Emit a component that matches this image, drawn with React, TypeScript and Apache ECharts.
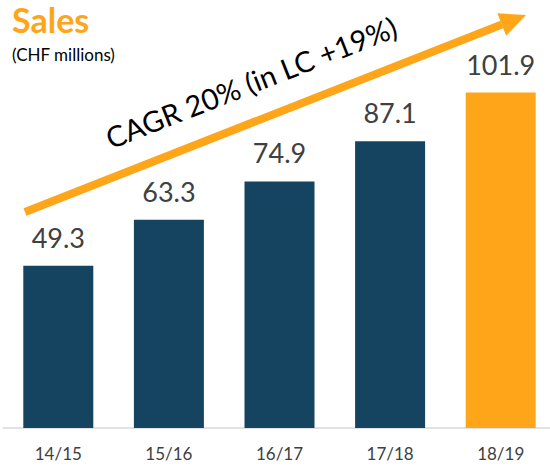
import React, { useEffect, useRef } from "react";
import * as echarts from "echarts";

const categories = ["14/15", "15/16", "16/17", "17/18", "18/19"];
const sales = [49.3, 63.3, 74.9, 87.1, 101.9];
const barColors = ["#14445F", "#14445F", "#14445F", "#14445F", "#FFA519"];
const titleText = "Sales";
const subtitleText = "(CHF millions)";
const cagrText = "CAGR 20% (in LC +19%)";

export default function App() {
  const ref = useRef<HTMLDivElement>(null);
  useEffect(() => {
    document.body.style.margin = "0";
    document.body.style.overflow = "hidden";
    const chart = echarts.init(ref.current!, null, { renderer: "svg" });
    const x0 = 25, y0 = 212, x1 = 526, y1 = 15;
    const ang = Math.atan2(y0 - y1, x1 - x0);
    const headLen = 26, headW = 12;
    const bx = x1 - headLen * Math.cos(ang);
    const by = y1 + headLen * Math.sin(ang);
    const px = Math.sin(ang) * headW;
    const py = Math.cos(ang) * headW;
    chart.setOption({
      animation: false,
      grid: { left: 3, right: 4, top: 33, bottom: 38 },
      xAxis: {
        type: "category",
        data: categories,
        axisLine: { lineStyle: { color: "#D9D9D9", width: 1.5 } },
        axisTick: { show: false },
        axisLabel: { color: "#404040", fontSize: 17, fontFamily: "Lato", margin: 17 },
      },
      yAxis: { type: "value", min: 0, max: 120, show: false, splitLine: { show: false } },
      series: [
        {
          type: "bar",
          barWidth: 70,
          data: sales.map((v, i) => ({ value: v, itemStyle: { color: barColors[i] } })),
          label: {
            show: true,
            position: "top",
            distance: 15,
            color: "#404040",
            fontSize: 27,
            fontFamily: "Lato",
          },
        },
      ],
      graphic: [
        {
          type: "text",
          left: 12,
          top: 2,
          style: { text: titleText, fill: "#FFA519", font: "bold 34px Lato" },
        },
        {
          type: "text",
          left: 12,
          top: 46,
          style: { text: subtitleText, fill: "#000", font: "17px Lato" },
        },
        {
          type: "line",
          shape: { x1: x0, y1: y0, x2: bx, y2: by },
          style: { stroke: "#FFA519", lineWidth: 8 },
        },
        {
          type: "polygon",
          shape: { points: [[x1, y1], [bx - px, by - py], [bx + px, by + py]] },
          style: { fill: "#FFA519" },
        },
        {
          type: "text",
          x: 251,
          y: 82,
          rotation: ang,
          style: {
            text: cagrText,
            fill: "#000",
            font: "29px Lato",
            align: "center",
            verticalAlign: "middle",
          },
        },
      ],
    });
    return () => chart.dispose();
  }, []);
  return (
    <div style={{ width: 550, height: 466, overflow: "hidden" }}>
      <div ref={ref} style={{ width: 560, height: 466 }} />
    </div>
  );
}
